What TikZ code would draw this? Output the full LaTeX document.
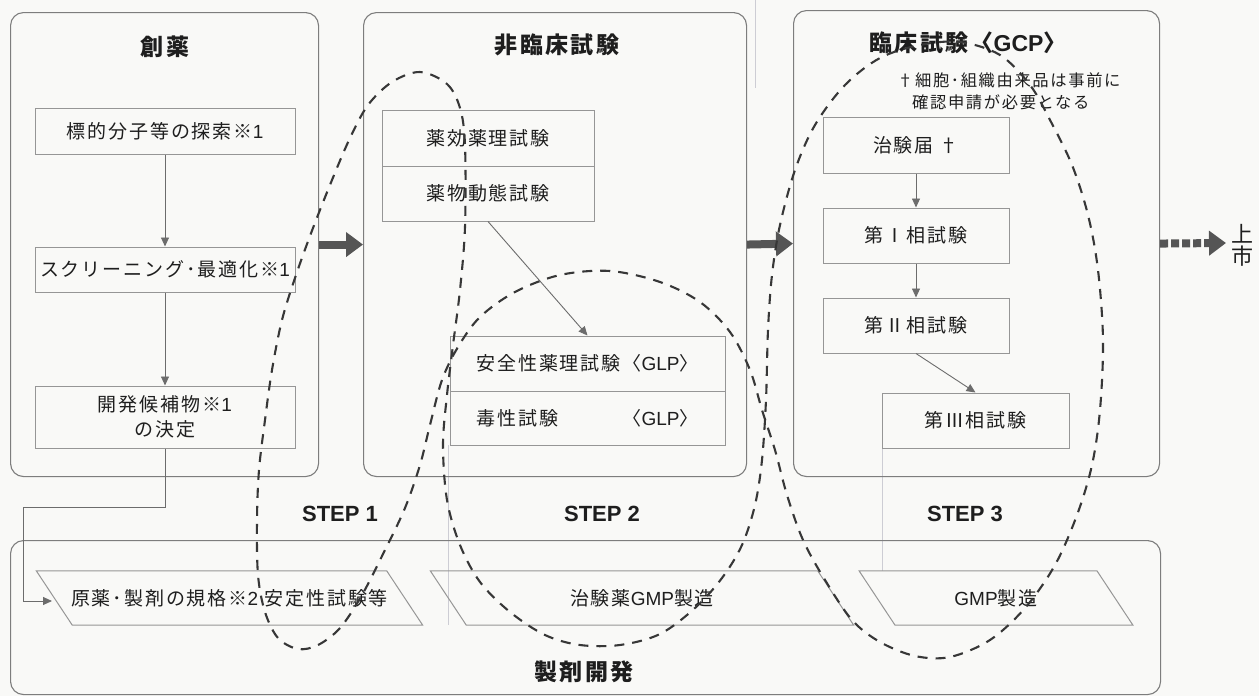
\documentclass[tikz,border=0pt]{standalone}
\usepackage{fontspec}
\setmainfont{Noto Sans CJK JP}[LetterSpace=10]
\newfontfamily\latinsf{Liberation Sans}
\newcommand\lt[1]{{\latinsf #1}}
\usetikzlibrary{arrows.meta,calc}
\definecolor{boxline}{RGB}{125,125,125}
\definecolor{subline}{RGB}{150,150,150}
\definecolor{ink}{RGB}{30,30,30}
\definecolor{dashc}{RGB}{55,55,55}
\definecolor{bigarr}{RGB}{85,85,85}
\definecolor{guidec}{RGB}{205,205,212}
\definecolor{paper}{RGB}{249,249,247}
\newlength\glpw
\begin{document}
\begin{tikzpicture}[x=1pt,y=-1pt,
  container/.style={draw=boxline, line width=1.1pt, rounded corners=13pt, anchor=north west, inner sep=0pt},
  subbox/.style={draw=subline, line width=1pt, inner sep=0pt, text=ink, font=\fontsize{19}{25}\selectfont},
  paratext/.style={inner sep=0pt, minimum height=54pt, text=ink, font=\fontsize{19}{25}\selectfont},
  para/.style={draw=subline, line width=1pt},
  titletext/.style={inner sep=0pt, text=ink, font=\fontsize{23}{27}\selectfont\bfseries},
  steplbl/.style={inner sep=0pt, text=ink, font=\latinsf\bfseries\fontsize{22}{26}\selectfont},
  notetext/.style={inner sep=0pt, text=ink, anchor=west, font=\fontsize{16.3}{19}\selectfont},
  arr/.style={draw=gray!85!black, line width=0.9pt, -{Triangle[length=9pt,width=8pt]}},
  bigarrow/.style={draw=bigarr, line width=8pt, -{Triangle[length=17pt,width=24pt]}},
  dotarrow/.style={draw=bigarr, line width=8pt, dash pattern=on 8pt off 3pt, -{Triangle[length=17pt,width=24pt]}},
  dashline/.style={draw=dashc, line width=2.1pt, dash pattern=on 10pt off 8pt},
  guideline/.style={draw=guidec, line width=1pt}
]
\useasboundingbox (0,0) rectangle (1259,696);
\fill[paper] (0,0) rectangle (1259,696);

% faint guide lines
\draw[guideline] (448,445) -- (448,625);
\draw[guideline] (882,448) -- (882,571);
\draw[guideline] (755,0) -- (755,88);

% containers
\node[container, minimum width=308pt, minimum height=464pt] (box1) at (10,12) {};
\node[container, minimum width=383pt, minimum height=464pt] (box2) at (363,12) {};
\node[container, minimum width=366pt, minimum height=466pt] (box3) at (793,10) {};
\node[container, minimum width=1150pt, minimum height=154pt] (box4) at (10,540) {};

% titles
\node[titletext] (t1) at (165,47) {創薬};
\node[titletext] (t2) at (557,45) {非臨床試験};
\node[titletext] (t3) at (968,43) {臨床試験〈\lt{GCP}〉};
\node[titletext] (t4) at (584,672) {製剤開発};

% note
\node[notetext] (n1) at (897,80) {†細胞･組織由来品は事前に};
\node[notetext] (n2) at (912,102) {確認申請が必要となる};

% discovery
\node[subbox, minimum width=260pt, minimum height=46pt] (b11) at (165,131) {標的分子等の探索※\lt{1}};
\node[subbox, minimum width=260pt, minimum height=45pt] (b12) at (165,269.5) {スクリーニング･最適化※\lt{1}};
\node[subbox, minimum width=260pt, minimum height=62pt, align=center] (b13) at (165,417) {開発候補物※\lt{1}\\の決定};

% nonclinical
\node[subbox, minimum width=212pt, minimum height=56pt] (b21) at (488,138) {薬効薬理試験};
\node[subbox, minimum width=212pt, minimum height=55pt] (b22) at (488,193.5) {薬物動態試験};
\node[subbox, minimum width=275pt, minimum height=55pt] (b23) at (587.5,363.5) {安全性薬理試験〈\lt{GLP}〉};
\node[subbox, minimum width=275pt, minimum height=54pt] (b24) at (587.5,418) {\settowidth{\glpw}{安全性薬理試験〈\lt{GLP}〉}\makebox[\glpw][s]{毒性試験\hfill〈\lt{GLP}〉}};

% clinical
\node[subbox, minimum width=186pt, minimum height=56pt] (b31) at (916,145) {治験届 †};
\node[subbox, minimum width=186pt, minimum height=55pt] (b32) at (916,235.5) {第Ⅰ相試験};
\node[subbox, minimum width=186pt, minimum height=55pt] (b33) at (916,325.5) {第Ⅱ相試験};
\node[subbox, minimum width=187pt, minimum height=55pt] (b34) at (975.5,420.5) {第Ⅲ相試験};

% formulation parallelograms
\node[paratext, minimum width=350pt] (p1) at (229.5,598) {原薬･製剤の規格※\lt{2} 安定性試験等};
\node[paratext, minimum width=387pt] (p2) at (642,598) {治験薬\lt{GMP}製造};
\node[paratext, minimum width=237.5pt] (p3) at (996,598) {\lt{GMP}製造};
\foreach \p in {p1,p2,p3}{
  \draw[para] ($(\p.north west)+(-18,0)$) -- ($(\p.north east)+(-18,0)$) -- ($(\p.south east)+(18,0)$) -- ($(\p.south west)+(18,0)$) -- cycle;
}

% step labels
\node[steplbl] (s1) at (340,514) {STEP 1};
\node[steplbl] (s2) at (602,514) {STEP 2};
\node[steplbl] (s3) at (965,514) {STEP 3};

% market
\node[inner sep=0pt, text=ink, align=center, font=\fontsize{22}{22}\selectfont] (mkt) at (1242,245) {上\\市};
\coordinate (mk) at (1226,243);

% thin arrows
\draw[arr] (b11) -- (b12);
\draw[arr] (b12) -- (b13);
\draw[arr] (b22.south) -- (b23.north);
\draw[arr] (b31) -- (b32);
\draw[arr] (b32) -- (b33);
\draw[arr] (b33.south) -- (b34.north);
\coordinate (k1) at (23,507);
\coordinate (k2) at (52,601);
\draw[arr] (b13.south) |- (k1) |- (k2);

% big arrows
\draw[bigarrow] (box1.east) -- (box2.west);
\draw[bigarrow] (box2.east) -- (box3.west);
\draw[dotarrow] (box3.east) -- (mk);

% dashed serpentine
\draw[dashline] plot[smooth cycle, tension=0.55] coordinates {
(420,72) (447,84) (460,108) (465,145) (465,227) (460,290) (453,345) (447,395)
(443,445) (447,500) (460,545) (480,582) (510,612) (545,635) (580,645) (620,645)
(660,634) (695,608) (722,578) (742,545) (755,505) (762,460) (766,400) (768,330)
(772,275) (780,225) (795,170) (815,125) (845,85) (880,58) (920,45) (960,42)
(1000,55) (1030,85) (1050,120) (1072,165) (1088,215) (1098,270) (1103,340) (1100,410)
(1092,465) (1077,515) (1055,565) (1025,608) (990,640) (950,657) (915,656) (880,642)
(852,620) (825,580) (803,540) (787,495) (775,450) (762,410) (750,370) (730,332)
(700,302) (660,282) (610,271) (560,275) (515,292) (480,317) (458,347) (442,380)
(430,425) (420,465) (405,508) (385,550) (362,595) (340,628) (318,645) (298,649)
(278,638) (265,612) (258,575) (257,520) (259,470) (265,420) (272,370) (282,320)
(296,275) (313,228) (332,180) (350,138) (368,105) (392,82)};
\end{tikzpicture}
\end{document}
